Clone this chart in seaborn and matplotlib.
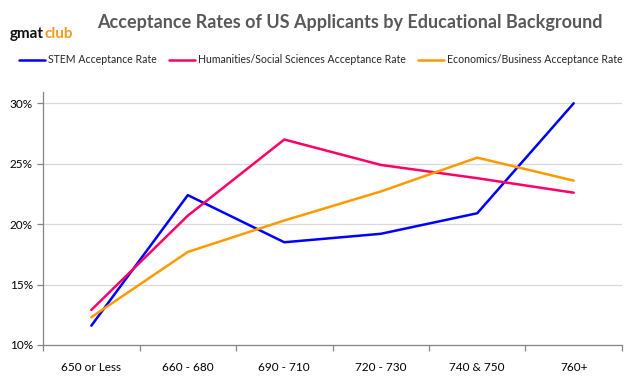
import numpy as np
import pandas as pd
import matplotlib
matplotlib.use("Agg")
import matplotlib.pyplot as plt
import seaborn as sns
from matplotlib.ticker import FixedLocator, FuncFormatter

# data
categories = ["650 or Less", "660 - 680", "690 - 710", "720 - 730", "740 & 750", "760+"]
stem = [11.6, 22.4, 18.5, 19.2, 20.9, 30.0]
humanities = [12.9, 20.7, 27.0, 24.9, 23.8, 22.6]
economics = [12.3, 17.7, 20.3, 22.7, 25.5, 23.6]
series_names = ["STEM Acceptance Rate",
                "Humanities/Social Sciences Acceptance Rate",
                "Economics/Business Acceptance Rate"]
colors = ["#0000FF", "#FF0066", "#FF9900"]

df = pd.DataFrame({
    "Score": categories * 3,
    "Rate": stem + humanities + economics,
    "Series": [series_names[0]] * 6 + [series_names[1]] * 6 + [series_names[2]] * 6,
})

sns.set_theme(style="white")
plt.rcParams['font.family'] = ['Lato', 'DejaVu Sans']

fig = plt.figure(figsize=(6.34, 3.81), dpi=100)
ax = fig.add_axes([0.068, 0.0945, 0.913, 0.663])

sns.lineplot(data=df, x="Score", y="Rate", hue="Series", palette=colors,
             hue_order=series_names, sort=False, linewidth=1.8, ax=ax, legend=False)

ax.set_xlim(-0.5, len(categories) - 0.5)
ax.set_ylim(10, 30.9)
ax.yaxis.set_major_locator(FixedLocator([10, 15, 20, 25, 30]))
ax.yaxis.set_major_formatter(FuncFormatter(lambda v, p: "%d%%" % v))
ax.grid(axis="y", color="#D9D9D9", linewidth=0.9)
ax.set_axisbelow(True)
ax.set_xlabel("")
ax.set_ylabel("")

ax.xaxis.set_minor_locator(FixedLocator(np.arange(-0.5, len(categories), 1.0)))
ax.tick_params(axis="x", which="major", length=0, labelsize=8.5, pad=12, colors="#000000")
ax.tick_params(axis="x", which="minor", length=4, width=0.9, color="#868686", direction="out", bottom=True)
ax.tick_params(axis="y", which="major", length=4, width=0.9, color="#868686", direction="out",
               left=True, labelsize=8.5, labelcolor="#000000")

for s in ["top", "right"]:
    ax.spines[s].set_visible(False)
for s in ["left", "bottom"]:
    ax.spines[s].set_color("#868686")
    ax.spines[s].set_linewidth(0.9)

# title and logo
fig.text(0.552, 0.94, "Acceptance Rates of US Applicants by Educational Background",
         ha="center", va="center", fontsize=13, fontweight="bold", color="#595959")
fig.text(0.016, 0.912, "gmat", ha="left", va="center", fontsize=11, fontweight="bold", color="#111111")
fig.text(0.0695, 0.912, "club", ha="left", va="center", fontsize=11, fontweight="bold", color="#F39A1E")

# legend
handles = [plt.Line2D([], [], color=c, linewidth=1.8) for c in colors]
fig.legend(handles, series_names, loc="center", bbox_to_anchor=(0.506, 0.843), ncol=3,
           frameon=False, fontsize=7.6, handlelength=2.5, handletextpad=0.3, columnspacing=1.1)

fig.savefig("out.png", dpi=100)
